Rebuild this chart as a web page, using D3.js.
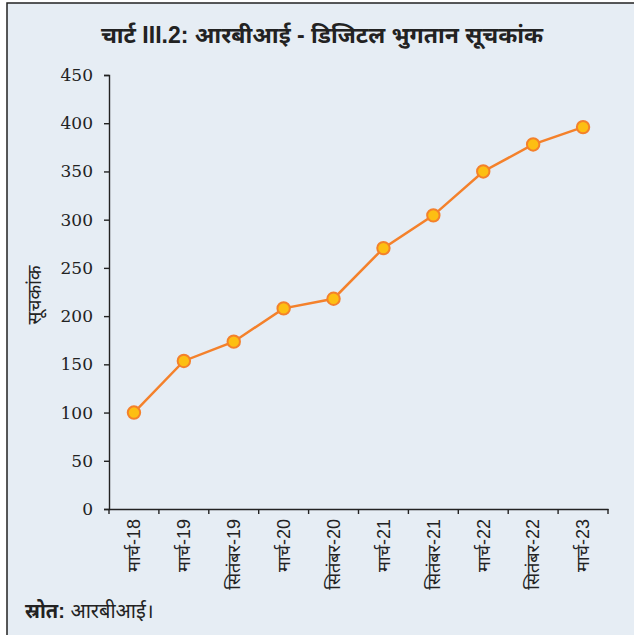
<!DOCTYPE html>
<html>
<head>
<meta charset="utf-8">
<script src="https://cdn.jsdelivr.net/npm/d3@7"></script>
<style>
  html, body { margin: 0; padding: 0; background: #fff; }
  svg { display: block; }
</style>
</head>
<body>
<div id="chart"></div>
<script>
const periods = ['मार्च-18', 'मार्च-19', 'सितंबर-19', 'मार्च-20', 'सितंबर-20', 'मार्च-21', 'सितंबर-21', 'मार्च-22', 'सितंबर-22', 'मार्च-23'];
const indexValues = [100, 153.5, 173.5, 208, 218, 270.5, 304.5, 350, 378, 396];
const yTicks = [0, 50, 100, 150, 200, 250, 300, 350, 400, 450];

const titleText = 'चार्ट III.2: आरबीआई - डिजिटल भुगतान सूचकांक';
const yAxisTitle = 'सूचकांक';

const W = 634;
const H = 635;
const devFont = '"Liberation Sans", "Noto Sans Devanagari", "Noto Sans", sans-serif';
const numFont = '"DejaVu Serif", "Liberation Serif", serif';

const svg = d3.select('#chart').append('svg')
  .attr('width', W)
  .attr('height', H);

// panel background + frame
svg.append('rect')
  .attr('x', 7).attr('y', 3)
  .attr('width', W + 10).attr('height', H + 10)
  .attr('fill', '#e6edf4')
  .attr('stroke', '#222')
  .attr('stroke-width', 1.5);

svg.append('text')
  .attr('x', 322).attr('y', 43)
  .attr('text-anchor', 'middle')
  .attr('font-family', devFont)
  .attr('font-weight', 'bold')
  .attr('font-size', 23)
  .attr('fill', '#222')
  .text(titleText);

const x = d3.scaleBand().domain(periods).range([109, 608]);
const y = d3.scaleLinear().domain([0, 450]).range([509, 75]);

const yAxisG = svg.append('g')
  .attr('transform', `translate(${x.range()[0]},0)`)
  .call(d3.axisLeft(y).tickValues(yTicks).tickSize(5).tickPadding(11));
yAxisG.select('.domain').attr('stroke', '#222').attr('stroke-width', 1.4);
yAxisG.selectAll('.tick line').attr('stroke', '#222').attr('stroke-width', 1.4);
yAxisG.selectAll('.tick text')
  .attr('font-family', numFont)
  .attr('font-size', 17)
  .attr('fill', '#222');

const xAxisG = svg.append('g')
  .attr('transform', `translate(0,${y(0)})`)
  .call(d3.axisBottom(x).tickSize(0).tickPadding(0));
xAxisG.select('.domain').attr('stroke', '#222').attr('stroke-width', 1.4);
xAxisG.selectAll('.tick text')
  .attr('font-family', devFont)
  .attr('font-size', 18)
  .attr('fill', '#222')
  .attr('text-anchor', 'end')
  .attr('dy', '0.35em')
  .attr('transform', 'translate(0,10) rotate(-90)')
  .attr('x', 0).attr('y', 0);

// tick marks at category boundaries
const bounds = periods.map((p) => x(p)).concat([x.range()[1]]);
svg.append('g').selectAll('line')
  .data(bounds)
  .enter()
  .append('line')
  .attr('x1', (d) => d).attr('x2', (d) => d)
  .attr('y1', y(0)).attr('y2', y(0) + 5)
  .attr('stroke', '#222')
  .attr('stroke-width', 1.4);

svg.append('text')
  .attr('transform', `translate(41,${y(222)}) rotate(-90)`)
  .attr('text-anchor', 'middle')
  .attr('font-family', devFont)
  .attr('font-size', 19)
  .attr('fill', '#222')
  .text(yAxisTitle);

const cx = (d, i) => x(periods[i]) + x.bandwidth() / 2;

const lineGen = d3.line()
  .x((d, i) => cx(d, i))
  .y((d) => y(d));

svg.append('path')
  .datum(indexValues)
  .attr('d', lineGen)
  .attr('fill', 'none')
  .attr('stroke', '#f4812b')
  .attr('stroke-width', 2.5);

svg.append('g').selectAll('circle')
  .data(indexValues)
  .enter()
  .append('circle')
  .attr('cx', cx)
  .attr('cy', (d) => y(d))
  .attr('r', 6.2)
  .attr('fill', '#fdbf12')
  .attr('stroke', '#f4812b')
  .attr('stroke-width', 2);

const src = svg.append('text')
  .attr('x', 25).attr('y', 618)
  .attr('font-family', devFont)
  .attr('font-size', 20)
  .attr('fill', '#222');
src.append('tspan').attr('font-weight', 'bold').text('स्रोत:');
src.append('tspan').text(' आरबीआई।');
</script>
</body>
</html>
